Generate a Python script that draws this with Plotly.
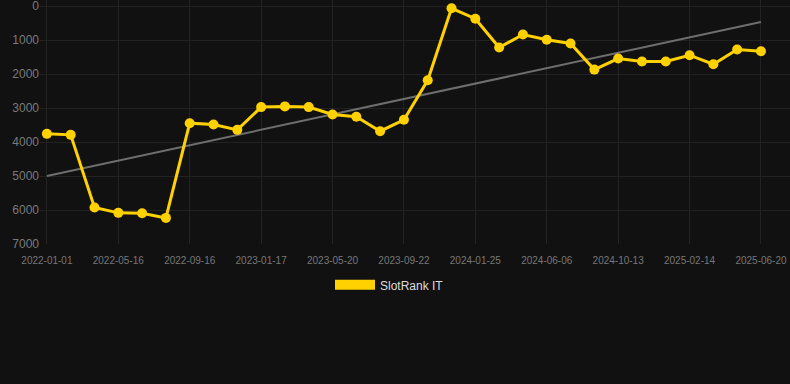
import plotly.graph_objects as go

dates = [
    "2022-01-01", "2022-02-15", "2022-03-31", "2022-05-16", "2022-06-26", "2022-08-06",
    "2022-09-16", "2022-10-27", "2022-12-07", "2023-01-17", "2023-02-27", "2023-04-09",
    "2023-05-20", "2023-07-01", "2023-08-11", "2023-09-22", "2023-11-02", "2023-12-14",
    "2024-01-25", "2024-03-09", "2024-04-23", "2024-06-06", "2024-07-19", "2024-08-31",
    "2024-10-13", "2024-11-23", "2025-01-03", "2025-02-14", "2025-03-28", "2025-05-09",
    "2025-06-20",
]
rank_it = [
    3760, 3790, 5927, 6084, 6094, 6232, 3446, 3485, 3642, 2973, 2953, 2973,
    3190, 3258, 3682, 3347, 2185, 68, 374, 1221, 837, 994, 1103, 1870,
    1546, 1634, 1634, 1447, 1713, 1280, 1329,
]
trend_x = [dates[0], dates[-1]]
trend_y = [5000, 470]
tick_labels = dates[::3]
y_ticks = [0, 1000, 2000, 3000, 4000, 5000, 6000, 7000]

series_name = "SlotRank IT"
yellow = "#FFD100"
bg = "#111111"

fig = go.Figure()
fig.add_trace(go.Scatter(
    x=trend_x, y=trend_y, mode="lines",
    line=dict(color="#6e6e6e", width=2),
    showlegend=False, hoverinfo="skip",
))
fig.add_trace(go.Scatter(
    x=dates, y=rank_it, mode="lines+markers",
    line=dict(color=yellow, width=3),
    marker=dict(color=yellow, size=10),
    name=series_name, showlegend=False,
))
# legend swatch (rectangle)
fig.add_trace(go.Scatter(
    x=[None], y=[None], mode="lines",
    line=dict(color=yellow, width=12),
    name=series_name, showlegend=True,
))

fig.update_layout(
    width=790, height=384, autosize=False,
    paper_bgcolor=bg, plot_bgcolor=bg,
    margin=dict(l=40, r=0, t=0, b=140, autoexpand=False),
    font=dict(family="Liberation Sans, Arial, sans-serif", color="#888888"),
    xaxis=dict(
        type="category",
        categoryorder="array", categoryarray=dates,
        tickvals=tick_labels, ticktext=tick_labels, tickangle=0,
        range=[-0.29, 31.22],
        showgrid=True, gridcolor="#222222", gridwidth=1,
        zeroline=False, showline=False,
        tickfont=dict(size=10, color="#777777"),
        ticks="", ticklen=0, ticklabelstandoff=9, ticklabeloverflow="allow",
    ),
    yaxis=dict(
        range=[7000, -177],
        tickvals=y_ticks,
        showgrid=True, gridcolor="#222222", gridwidth=1,
        zeroline=False, showline=False,
        tickfont=dict(size=12, color="#7a7a7a"),
        ticks="", ticklen=0, ticklabeloverflow="allow",
    ),
    legend=dict(
        orientation="h", x=0.466, xanchor="center",
        y=-0.108, yanchor="top",
        font=dict(size=12, color="#dddddd"),
        itemwidth=40, bgcolor="rgba(0,0,0,0)",
    ),
)

html = fig.to_html(full_html=True, include_plotlyjs=True,
                   config={"displayModeBar": False})
html = html.replace("<head>", "<head><style>html,body{margin:0;padding:0;background:#111111;}</style>", 1)
with open("out.html", "w", encoding="utf-8") as f:
    f.write(html)
